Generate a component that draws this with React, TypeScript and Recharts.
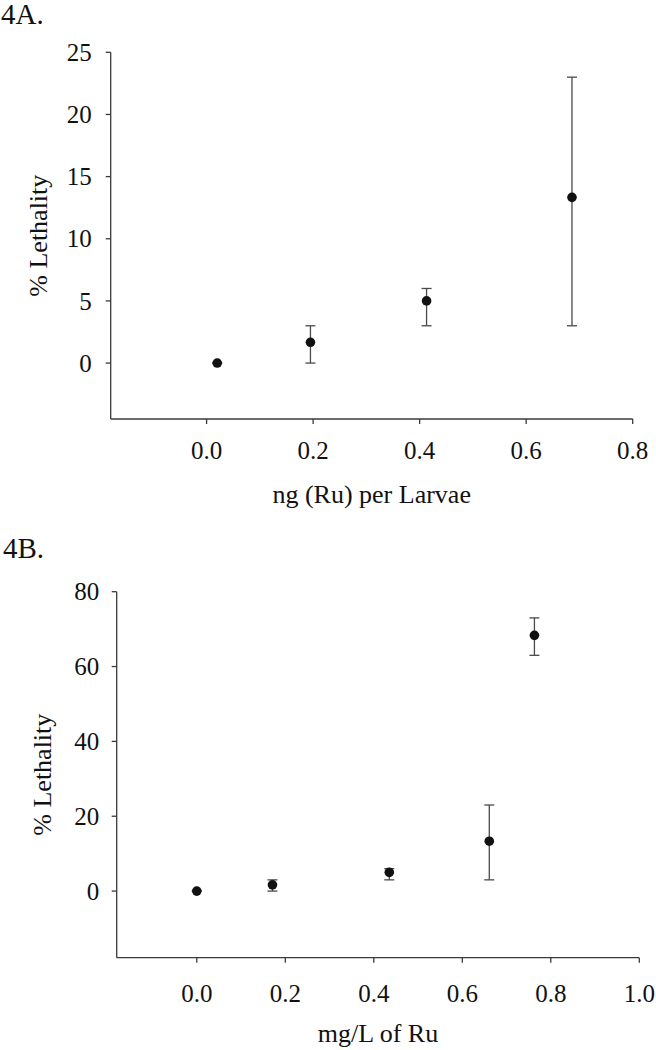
import React from 'react';
import { ScatterChart, Scatter, XAxis, YAxis, ErrorBar } from 'recharts';

// ---- Figure 4A data ----
const doseA = [0.02, 0.195, 0.413, 0.686];
const lethalA = [0, 1.67, 5, 13.33];
const errLowA = [0, 1.67, 2, 10.33];
const errHighA = [0, 1.33, 1, 9.67];
const xTicksA = [0, 0.2, 0.4, 0.6, 0.8];
const yTicksA = [0, 5, 10, 15, 20, 25];

// ---- Figure 4B data ----
const concB = [0, 0.171, 0.435, 0.661, 0.763];
const lethalB = [0, 1.67, 5, 13.33, 68.33];
const errLowB = [0, 1.67, 2, 10.33, 5.33];
const errHighB = [0, 1.33, 1, 9.67, 4.67];
const xTicksB = [0, 0.2, 0.4, 0.6, 0.8, 1.0];
const yTicksB = [0, 20, 40, 60, 80];

const dataA = doseA.map((x, i) => ({ x, y: lethalA[i], err: [errLowA[i], errHighA[i]] }));
const dataB = concB.map((x, i) => ({ x, y: lethalB[i], err: [errLowB[i], errHighB[i]] }));

const FONT = 'Liberation Serif, Times New Roman, serif';
const AXIS = '#3a3a3a';
const INK = '#111';

const Dot = (props: any) => <circle cx={props.cx} cy={props.cy} r={4.8} fill={INK} />;

const makeXTick = (dy: number) => (props: any) => (
  <text x={props.x} y={props.y + dy} textAnchor="middle" fontFamily={FONT} fontSize={25} fill={INK}>
    {Number(props.payload.value).toFixed(1)}
  </text>
);

const makeYTick = (dx: number) => (props: any) => (
  <text x={props.x - dx} y={props.y + 8.7} textAnchor="end" fontFamily={FONT} fontSize={25} fill={INK}>
    {props.payload.value}
  </text>
);

type PanelProps = {
  data: any[];
  width: number;
  height: number;
  margin: { top: number; right: number; bottom: number; left: number };
  xDomain: [number, number];
  yDomain: [number, number];
  xTicks: number[];
  yTicks: number[];
  xTickDy: number;
  yTickDx: number;
};

const Panel = (p: PanelProps) => (
  <ScatterChart width={p.width} height={p.height} margin={p.margin}>
    <XAxis
      xAxisId="top"
      orientation="top"
      type="number"
      dataKey="x"
      domain={p.xDomain}
      allowDataOverflow
      height={0}
      tick={false}
      tickLine={false}
      axisLine={{ stroke: AXIS, strokeWidth: 1.3 }}
    />
    <YAxis
      yAxisId="right"
      orientation="right"
      type="number"
      dataKey="y"
      domain={p.yDomain}
      allowDataOverflow
      width={0}
      tick={false}
      tickLine={false}
      axisLine={{ stroke: AXIS, strokeWidth: 1.3 }}
    />
    <XAxis
      type="number"
      dataKey="x"
      domain={p.xDomain}
      ticks={p.xTicks}
      allowDataOverflow
      height={60}
      tickSize={5}
      tickMargin={0}
      tick={makeXTick(p.xTickDy)}
      tickLine={{ stroke: AXIS, strokeWidth: 1.3 }}
      axisLine={{ stroke: AXIS, strokeWidth: 1.3 }}
    />
    <YAxis
      type="number"
      dataKey="y"
      domain={p.yDomain}
      ticks={p.yTicks}
      allowDataOverflow
      width={60}
      tickSize={5}
      tickMargin={0}
      tick={makeYTick(p.yTickDx)}
      tickLine={{ stroke: AXIS, strokeWidth: 1.3 }}
      axisLine={{ stroke: AXIS, strokeWidth: 1.3 }}
    />
    <Scatter data={p.data} dataKey="y" shape={Dot} isAnimationActive={false}>
      <ErrorBar dataKey="err" direction="y" width={5} stroke="#4a4a4a" strokeWidth={1.3} isAnimationActive={false} />
    </Scatter>
  </ScatterChart>
);

export default function App() {
  return (
    <div style={{ position: 'absolute', left: 0, top: 0, width: 656, height: 1050, background: '#fff' }}>
      <div style={{ position: 'absolute', left: 0, top: 0 }}>
        <Panel
          data={dataA}
          width={656}
          height={520}
          margin={{ top: 52.3, right: 23.3, bottom: 41, left: 50.7 }}
          xDomain={[-0.18, 0.8]}
          yDomain={[-4.5, 25]}
          xTicks={xTicksA}
          yTicks={yTicksA}
          xTickDy={35.3}
          yTickDx={14}
        />
      </div>
      <div style={{ position: 'absolute', left: 0, top: 540 }}>
        <Panel
          data={dataB}
          width={656}
          height={510}
          margin={{ top: 51.7, right: 16.7, bottom: 32.3, left: 56.7 }}
          xDomain={[-0.181, 1.0]}
          yDomain={[-17.8, 80]}
          xTicks={xTicksB}
          yTicks={yTicksB}
          xTickDy={39}
          yTickDx={12.5}
        />
      </div>
      <svg
        width={656}
        height={1050}
        style={{ position: 'absolute', left: 0, top: 0, pointerEvents: 'none' }}
      >
        <text x={1} y={24} fontSize={29} fontFamily={FONT} fill={INK}>4A.</text>
        <text x={371.7} y={503.3} fontSize={26} fontFamily={FONT} fill={INK} textAnchor="middle">ng (Ru) per Larvae</text>
        <text x={47} y={235.7} fontSize={26} fontFamily={FONT} fill={INK} textAnchor="middle" transform="rotate(-90 47 235.7)">% Lethality</text>
        <text x={3} y={558.3} fontSize={29} fontFamily={FONT} fill={INK}>4B.</text>
        <text x={378} y={1041.7} fontSize={26} fontFamily={FONT} fill={INK} textAnchor="middle">mg/L of Ru</text>
        <text x={51} y={774.7} fontSize={26} fontFamily={FONT} fill={INK} textAnchor="middle" transform="rotate(-90 51 774.7)">% Lethality</text>
      </svg>
    </div>
  );
}
